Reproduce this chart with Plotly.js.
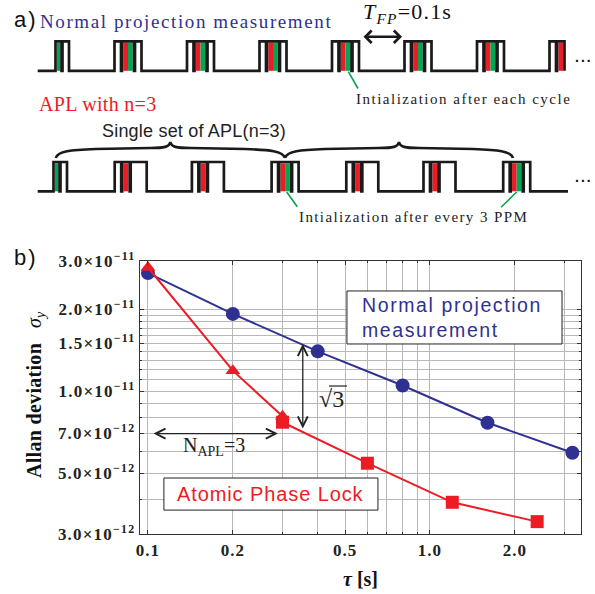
<!DOCTYPE html>
<html><head><meta charset="utf-8">
<script src="https://cdn.plot.ly/plotly-3.0.1.min.js"></script>
<style>html,body{margin:0;padding:0;background:#fff}#chart{width:595px;height:594px}</style>
</head><body><div id="chart"></div>
<script>
// ---------------- panel (b) data ----------------
const tauNPM   = [0.1, 0.2, 0.4, 0.8, 1.6, 3.2];
const sigmaNPM = [2.71e-11, 1.92e-11, 1.40e-11, 1.05e-11, 7.67e-12, 5.95e-12];
const tauAPLtri   = [0.1, 0.2, 0.3];
const sigmaAPLtri = [2.84e-11, 1.19e-11, 8.1e-12];
const tauAPLsq    = [0.3, 0.6, 1.2, 2.4];
const sigmaAPLsq  = [7.7e-12, 5.45e-12, 3.92e-12, 3.33e-12];
const yTickVals = [3e-12, 5e-12, 7e-12, 1e-11, 1.5e-11, 2e-11, 3e-11];
const yTickMant = ['3.0', '5.0', '7.0', '1.0', '1.5', '2.0', '3.0'];
const yTickExp  = ['12', '12', '12', '11', '11', '11', '11'];
const yMinorVals = [4e-12, 6e-12, 8e-12, 9e-12, 1.1e-11, 1.2e-11, 1.3e-11, 1.4e-11, 1.6e-11, 1.7e-11, 1.8e-11, 1.9e-11];
const xTickVals = [0.1, 0.2, 0.5, 1, 2];
const xTickText = ['0.1', '0.2', '0.5', '1.0', '2.0'];
const xMinorVals = [0.3, 0.4, 0.6, 0.7, 0.8, 0.9, 3];

// ---------------- panel (a) pulse sequences ----------------
// P = Ramsey pulse, R = projection measurement, G = initialization,
// RG = measurement followed by initialization, W = long pulse
const seqNPM = [['G','P'], ['P','RG','P'], ['P','RG','P'], ['P','RG','P'], ['P','RG','P'],
                ['P','RG','P'], ['P','RG','P'], ['P','R']];
const seqAPL = [['G','P'], ['P','R','W'], ['P','R','W'], ['P','RG','P'], ['P','R','W'],
                ['P','R','W'], ['P','RG','P']];

// ---------------- styling / geometry ----------------
const BLUE = '#2e3192', RED = '#ed1c24', GREEN = '#00a651', INK = '#1a1a1a';
const SERIF = 'Liberation Serif', SANS = 'Liberation Sans';
const PW = {P: 6.5, R: 7.5, G: 6, RG: 12, W: 16};
const GAP = 1, LW = 2.7;
function gw(g) { return g.reduce((s, t) => s + PW[t], 0) + GAP * (g.length - 1); }
const TPL = gw(['P','RG','P']);

const wx = [], wy = [], fillShapes = [];
function buildTrain(seq, cfg) {
  wx.push(cfg.x0); wy.push(cfg.base);
  seq.forEach((g, k) => {
    const c = cfg.c0 + cfg.period * k;
    let s;
    if (k === 0) s = c + TPL / 2 - gw(g);
    else if (k === seq.length - 1 && cfg.lastLeft) s = c - TPL / 2;
    else s = c - gw(g) / 2;
    let x = s;
    g.forEach(t => {
      const a = x, b = x + PW[t];
      wx.push(a, a, b, b); wy.push(cfg.base, cfg.top, cfg.top, cfg.base);
      const ia = a + LW / 2, ib = b - LW / 2, it = cfg.top + LW / 2, ibt = cfg.base;
      const add = (x0, x1, col) => fillShapes.push({type: 'rect', xref: 'x2', yref: 'y2', x0: x0, x1: x1,
        y0: it, y1: ibt, fillcolor: col, line: {width: 0}, layer: 'below'});
      if (t === 'R') add(ia, ib, RED);
      if (t === 'G') add(ia, ib, GREEN);
      if (t === 'RG') { const m = (ia + ib) / 2; add(ia, m, RED); add(m, ib, GREEN); }
      x = b + GAP;
    });
  });
  if (cfg.x1) { wx.push(cfg.x1); wy.push(cfg.base); }
  wx.push(null); wy.push(null);
}
buildTrain(seqNPM, {x0: 37.7, base: 70.8, top: 41.3, c0: 55.5, period: 72.5, lastLeft: true});
buildTrain(seqAPL, {x0: 37.7, x1: 568, base: 191.3, top: 162, c0: 53.5, period: 77.2, lastLeft: false});

function brace(x0, x1, yEnd, yArm, yTip) {
  const xm = (x0 + x1) / 2;
  return `M${x0},${yEnd} C${x0 + 2},${yArm + 1} ${x0 + 15},${yArm} ${x0 + 40},${yArm - 1} ` +
         `L${xm - 20},${yArm - 2} C${xm - 6},${yArm - 2} ${xm - 1},${yArm - 3} ${xm},${yTip} ` +
         `C${xm + 1},${yArm - 3} ${xm + 6},${yArm - 2} ${xm + 20},${yArm - 2} ` +
         `L${x1 - 40},${yArm - 1} C${x1 - 15},${yArm} ${x1 - 2},${yArm + 1} ${x1},${yEnd}`;
}

const ls = (px, s) => `<span style="letter-spacing:${px}px">${s}</span>`;
const L = Math.log10;

const traces = [
  {x: tauNPM, y: sigmaNPM, mode: 'lines+markers', line: {color: BLUE, width: 2},
   marker: {symbol: 'circle', size: 14, color: BLUE}, xaxis: 'x', yaxis: 'y'},
  {x: tauAPLtri, y: sigmaAPLtri, mode: 'lines+markers', line: {color: RED, width: 2},
   marker: {symbol: 'triangle-up', size: 13, color: RED}, xaxis: 'x', yaxis: 'y'},
  {x: tauAPLsq, y: sigmaAPLsq, mode: 'lines+markers', line: {color: RED, width: 2},
   marker: {symbol: 'square', size: 13, color: RED}, xaxis: 'x', yaxis: 'y'},
  {x: wx, y: wy, mode: 'lines', line: {color: INK, width: LW}, xaxis: 'x2', yaxis: 'y2', connectgaps: false}
];

const shapes = fillShapes.concat([
  {type: 'path', xref: 'x2', yref: 'y2', path: brace(55.7, 285, 158, 150, 142), line: {color: INK, width: 2.6}},
  {type: 'path', xref: 'x2', yref: 'y2', path: brace(285, 513, 158, 150, 142), line: {color: INK, width: 2.6}},
  {type: 'line', xref: 'x2', yref: 'y2', x0: 348.3, y0: 71.7, x1: 358, y1: 88.5, line: {color: GREEN, width: 1.6}},
  {type: 'line', xref: 'x2', yref: 'y2', x0: 286.7, y0: 192, x1: 297.3, y1: 206.7, line: {color: GREEN, width: 1.6}},
  {type: 'line', xref: 'x2', yref: 'y2', x0: 516.7, y0: 192, x1: 501, y1: 207.3, line: {color: GREEN, width: 1.6}},
  // legend boxes inside panel (b)
  {type: 'rect', xref: 'x', yref: 'y', x0: 0.5077, x1: 2.94, y0: 1.49e-11, y1: 2.33e-11,
   fillcolor: '#fff', line: {color: '#222', width: 1}, layer: 'between'},
  {type: 'rect', xref: 'x', yref: 'y', x0: 0.1139, x1: 0.654, y0: 3.67e-12, y1: 4.81e-12,
   fillcolor: '#fff', line: {color: '#222', width: 1}, layer: 'between'},
  // overline of sqrt(3)
  {type: 'line', xref: 'x', yref: 'y', x0: 0.4384, x1: 0.5077, y0: 1.0452e-11, y1: 1.0452e-11,
   line: {color: '#222', width: 1.2}}
]);

const ann = [];
function txt2(x, y, text, font, extra) {
  ann.push(Object.assign({xref: 'x2', yref: 'y2', x: x, y: y, text: text, showarrow: false,
    xanchor: 'left', yanchor: 'middle', font: font}, extra || {}));
}
txt2(12, 19, ls(2, 'a)'), {family: SANS, size: 22, color: '#111'});
txt2(37.5, 21, ls(1.6, 'Normal projection measurement'), {family: SERIF, size: 19, color: BLUE});
txt2(361, 13, ls(1.2, '<i>T</i><sub><i>FP</i></sub>=0.1s'), {family: SERIF, size: 22, color: '#111'});
txt2(354, 99, ls(1.5, 'Intialization after each cycle'), {family: SERIF, size: 15, color: '#222'});
txt2(37, 103.5, ls(0.3, 'APL with n=3'), {family: SERIF, size: 20, color: RED});
txt2(100, 130.5, ls(0.2, 'Single set of APL(n=3)'), {family: SANS, size: 18, color: '#222'});
txt2(296.5, 216.5, ls(1.4, 'Intialization after every 3 PPM'), {family: SERIF, size: 15, color: '#222'});
txt2(573, 57, ls(2, '<b>...</b>'), {family: SANS, size: 14, color: '#111'});
txt2(573, 177, ls(2, '<b>...</b>'), {family: SANS, size: 14, color: '#111'});
// T_FP double arrow
ann.push({xref: 'x2', yref: 'y2', axref: 'x2', ayref: 'y2', x: 402, y: 36.7, ax: 362, ay: 36.7,
  text: '', showarrow: true, arrowside: 'end+start', arrowhead: 4, startarrowhead: 4,
  arrowwidth: 2.4, arrowsize: 1, startarrowsize: 1, arrowcolor: INK});

// panel b labels (paper coords)
ann.push({xref: 'paper', yref: 'paper', x: 12 / 595, y: 1 - 257 / 594, xanchor: 'left', yanchor: 'middle',
  text: ls(2, 'b)'), showarrow: false, font: {family: SANS, size: 22, color: '#111'}});
ann.push({xref: 'paper', yref: 'paper', x: 35 / 595, y: 1 - 395 / 594, xanchor: 'center', yanchor: 'middle',
  textangle: -90, showarrow: false, font: {family: SERIF, size: 20, color: '#111'},
  text: '<b>' + ls(0.3, 'Allan deviation') + '</b>\u00a0\u00a0\u00a0<i>σ</i><sub><i>y</i></sub>'});
ann.push({xref: 'paper', yref: 'paper', x: 360 / 595, y: 1 - 579 / 594, xanchor: 'center', yanchor: 'middle',
  showarrow: false, font: {family: SERIF, size: 20, color: '#111'}, text: '<b><i>τ</i> [s]</b>'});

// in-plot annotations (data coords; log axes use log10 positions)
ann.push({xref: 'x', yref: 'y', x: L(0.5647), y: -10.728, xanchor: 'left', yanchor: 'middle', align: 'left',
  showarrow: false, font: {family: SANS, size: 19.5, color: BLUE},
  text: ls(1.6, 'Normal projection<br>measurement')});
ann.push({xref: 'x', yref: 'y', x: L(0.273), y: L(4.2e-12), xanchor: 'center', yanchor: 'middle',
  showarrow: false, font: {family: SANS, size: 20, color: RED}, text: ls(0.9, 'Atomic Phase Lock')});
ann.push({xref: 'x', yref: 'y', axref: 'x', ayref: 'y', x: L(0.354), y: L(1.49e-11), ax: L(0.354), ay: L(7.21e-12),
  text: '', showarrow: true, arrowside: 'end+start', arrowhead: 5, startarrowhead: 5,
  arrowwidth: 1.3, arrowsize: 1.5, startarrowsize: 1.5, arrowcolor: '#222'});
ann.push({xref: 'x', yref: 'y', axref: 'x', ayref: 'y', x: L(0.289), y: L(7e-12), ax: L(0.1033), ay: L(7e-12),
  text: '', showarrow: true, arrowside: 'end+start', arrowhead: 5, startarrowhead: 5,
  arrowwidth: 1.3, arrowsize: 1.5, startarrowsize: 1.5, arrowcolor: '#222'});
ann.push({xref: 'x', yref: 'y', x: -0.3475, y: -11.028, xanchor: 'center', yanchor: 'middle',
  showarrow: false, font: {family: SERIF, size: 24, color: '#222'}, text: '√3'});
ann.push({xref: 'x', yref: 'y', x: -0.766, y: -11.2006, xanchor: 'center', yanchor: 'middle',
  showarrow: false, font: {family: SERIF, size: 20, color: '#222'}, text: 'N<sub>APL</sub>=3'});

const axisCommon = {showline: true, linecolor: '#333', linewidth: 1.3, mirror: 'ticks', ticks: 'inside',
  ticklen: 4, tickcolor: '#333', showgrid: true, gridcolor: '#b8b8b8', gridwidth: 1, zeroline: false};

const layout = {
  width: 595, height: 594, margin: {l: 0, r: 0, t: 0, b: 0, pad: 0},
  paper_bgcolor: '#fff', plot_bgcolor: 'rgba(0,0,0,0)', showlegend: false, hovermode: false,
  xaxis: Object.assign({}, axisCommon, {type: 'log', anchor: 'y', domain: [140 / 595, 581 / 595],
    range: [L(0.0937), L(3.433)], tickmode: 'array', tickvals: xTickVals, ticktext: xTickText.map(t => ls(1, t)),
    tickfont: {family: SERIF, size: 17, weight: 'bold', color: '#222'},
    minor: {tickmode: 'array', tickvals: xMinorVals, showgrid: true, gridcolor: '#b8b8b8', gridwidth: 1,
      ticks: 'inside', ticklen: 2, tickcolor: '#333'}}),
  yaxis: Object.assign({}, axisCommon, {type: 'log', anchor: 'x', domain: [1 - 534 / 594, 1 - 261 / 594],
    range: [L(3e-12), L(3e-11)], tickmode: 'array', tickvals: yTickVals,
    ticktext: yTickMant.map((m, i) => ls(1.2, m + '×10<sup>−' + yTickExp[i] + '</sup>')),
    tickfont: {family: SERIF, size: 17, weight: 'bold', color: '#222'},
    minor: {tickmode: 'array', tickvals: yMinorVals, showgrid: true, gridcolor: '#b8b8b8', gridwidth: 1,
      ticks: 'inside', ticklen: 2, tickcolor: '#333'}}),
  xaxis2: {domain: [0, 1], range: [0, 595], anchor: 'y2', visible: false, fixedrange: true},
  yaxis2: {domain: [1 - 240 / 594, 1], range: [240, 0], anchor: 'x2', visible: false, fixedrange: true},
  shapes: shapes, annotations: ann
};

Plotly.newPlot('chart', traces, layout, {staticPlot: true, displayModeBar: false});
</script></body></html>
